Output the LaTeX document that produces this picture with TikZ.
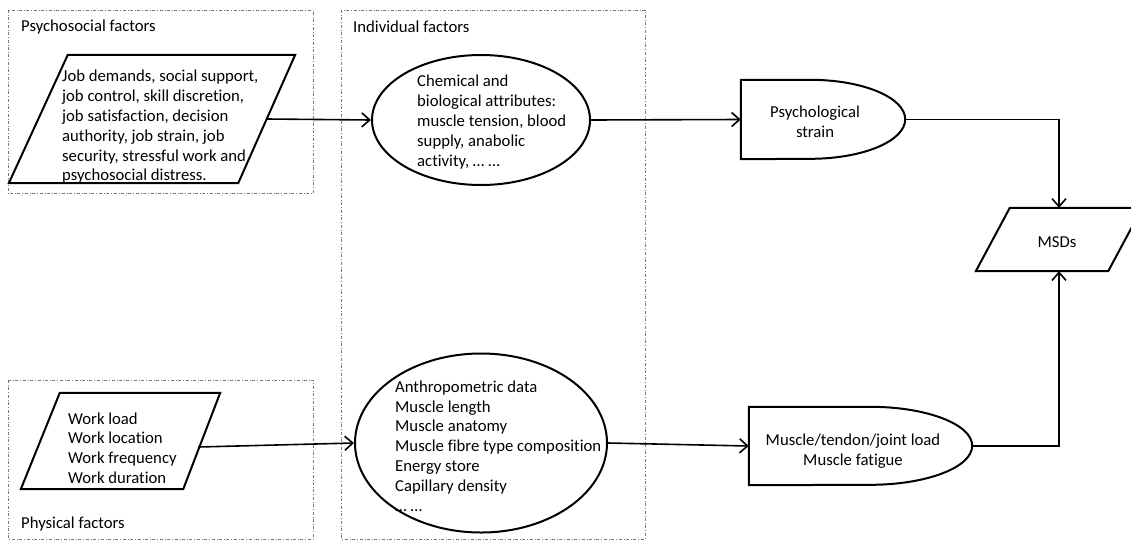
\documentclass[tikz,border=0pt]{standalone}
\usepackage{fontspec}
\setmainfont[Ligatures={NoCommon,NoDiscretionary,NoRare}]{Carlito}
\usetikzlibrary{shapes.geometric,arrows.meta}

\begin{document}
\begin{tikzpicture}[x=1pt,y=-1pt,
  factorbox/.style={draw={rgb,255:red,120;green,120;blue,120},dash dot,line width=0.7pt},
  outline/.style={line width=2pt},
  frame/.style={inner sep=0pt},
  oval/.style={draw,line width=2pt,ellipse,inner sep=0pt},
  txt/.style={inner sep=0pt,align=left,font=\fontsize{16.7}{19.8}\selectfont},
  flow/.style={line width=1.6pt,-{Straight Barb[length=8pt,width=14pt,line width=1.6pt]}}
]
    \useasboundingbox (0,0) rectangle (1131,541);

    %Shape: Rectangle [factor groups]
    \draw[factorbox] (8,10) rectangle (313,193);
    \draw[factorbox] (341,10) rectangle (645,539);
    \draw[factorbox] (8,380) rectangle (313,539);

    %Shape: Parallelogram
    \node[frame,minimum width=286pt,minimum height=128pt] (psy) at (152,119) {};
    \draw[outline] ([xshift=59pt]psy.north west) -- (psy.north east) -- ([xshift=-57pt]psy.south east) -- (psy.south west) -- cycle;
    \coordinate (psyout) at ([xshift=-28.5pt]psy.east);
    %Shape: Parallelogram
    \node[frame,minimum width=199pt,minimum height=96pt] (phy) at (120.5,441) {};
    \draw[outline] ([xshift=39pt]phy.north west) -- (phy.north east) -- ([xshift=-37pt]phy.south east) -- (phy.south west) -- cycle;
    \coordinate (phyout) at ([xshift=-22pt,yshift=-6pt]phy.east);
    %Shape: Parallelogram
    \node[frame,minimum width=166pt,minimum height=63pt] (msd) at (1059,239.5) {};
    \draw[outline] ([xshift=34pt]msd.north west) -- (msd.north east) -- ([xshift=-34pt]msd.south east) -- (msd.south west) -- cycle;

    %Shape: Ellipse
    \node[oval,minimum width=218pt,minimum height=130pt] (chem) at (481,120) {};
    \node[oval,minimum width=252pt,minimum height=179pt] (anat) at (481,443) {};

    %Shape: Delay
    \node[frame,minimum width=164pt,minimum height=79pt] (strain) at (823,119.5) {};
    \draw[outline] (strain.south west) -- (strain.north west) -- ([xshift=-95pt]strain.north east)
        arc[start angle=90,end angle=-90,x radius=95pt,y radius=39.5pt] -- cycle;
    %Shape: Delay
    \node[frame,minimum width=223pt,minimum height=78pt] (load) at (860.5,446) {};
    \draw[outline] (load.south west) -- (load.north west) -- ([xshift=-102pt]load.north east)
        arc[start angle=90,end angle=-90,x radius=102pt,y radius=39pt] -- cycle;

    % Text Node
    \node[txt,anchor=west] (psylabel) at (21,27) {Psychosocial factors};
    % Text Node
    \node[txt,anchor=west] (indlabel) at (353,27) {Individual factors};
    % Text Node
    \node[txt,anchor=west] (phylabel) at (21,524) {Physical factors};
    % Text Node
    \node[txt,anchor=west] (psytxt) at (62,127) {Job demands, social support,\\job control, skill discretion,\\job satisfaction, decision\\authority, job strain, job\\security, stressful work and\\psychosocial distress.};
    % Text Node
    \node[txt,anchor=west] (phytxt) at (68,448) {Work load\\Work location\\Work frequency\\Work duration};
    % Text Node
    \node[txt,anchor=west] (chemtxt) at (417,122) {Chemical and\\biological attributes:\\muscle tension, blood\\supply, anabolic\\activity, … …};
    % Text Node
    \node[txt,anchor=west] (anattxt) at (395,446) {Anthropometric data\\Muscle length\\Muscle anatomy\\Muscle fibre type composition\\Energy store\\Capillary density\\… …};
    % Text Node
    \node[txt,align=center] (straintxt) at (815,122) {Psychological\\strain};
    % Text Node
    \node[txt,align=center] (loadtxt) at (853,451) {Muscle/tendon/joint load\\Muscle fatigue};
    % Text Node
    \node[txt] (msdtxt) at (1057,242) {MSDs};

    %Straight Lines
    \draw[flow] (psyout) -- (chem.west);
    \draw[flow] (chem.east) -- (strain.west);
    \draw[flow] (phyout) -- (anat.west);
    \draw[flow] (anat.east) -- (load.west);
    \draw[flow] (strain.east) -| (msd.north);
    \draw[flow] (load.east) -| (msd.south);

\end{tikzpicture}
\end{document}
